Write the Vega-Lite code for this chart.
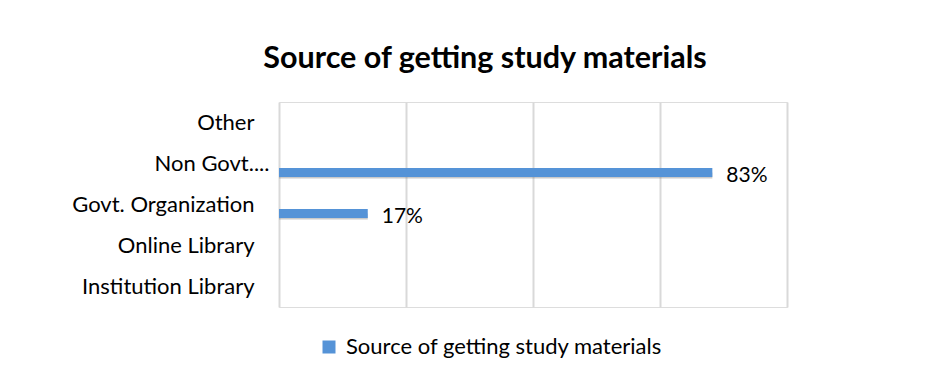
{
  "$schema": "https://vega.github.io/schema/vega-lite/v6.json",
  "width": 508,
  "height": 205,
  "autosize": {"type": "none"},
  "padding": {"left": 279, "top": 102, "right": 163, "bottom": 70},
  "background": "white",
  "title": {
    "text": "Source of getting study materials",
    "font": "Lato",
    "fontSize": 30.5,
    "fontWeight": "bold",
    "color": "#000000",
    "anchor": "middle",
    "dx": -48,
    "offset": 28
  },
  "data": {
    "values": [
      {"source": "Other", "share": 0, "series": "Source of getting study materials"},
      {"source": "Non Govt....", "share": 0.83, "series": "Source of getting study materials"},
      {"source": "Govt. Organization", "share": 0.17, "series": "Source of getting study materials"},
      {"source": "Online Library", "share": 0, "series": "Source of getting study materials"},
      {"source": "Institution Library", "share": 0, "series": "Source of getting study materials"}
    ]
  },
  "encoding": {
    "y": {
      "field": "source",
      "type": "nominal",
      "sort": ["Other", "Non Govt....", "Govt. Organization", "Online Library", "Institution Library"],
      "scale": {"paddingInner": 0, "paddingOuter": 0},
      "axis": {
        "title": null,
        "domain": false,
        "ticks": false,
        "grid": false,
        "labelFont": "Lato",
        "labelFontSize": 22,
        "labelColor": "#000000",
        "labelLimit": 0,
        "labelPadding": {"condition": {"test": "datum.value == 'Non Govt....'", "value": 10}, "value": 25}
      }
    },
    "x": {
      "field": "share",
      "type": "quantitative",
      "scale": {"domain": [0, 0.973], "nice": false},
      "axis": {
        "title": null,
        "labels": false,
        "ticks": false,
        "domain": false,
        "grid": true,
        "gridColor": "#d9d9d9",
        "gridWidth": 2,
        "values": [0, 0.243, 0.4865, 0.73, 0.973]
      }
    }
  },
  "layer": [
    {
      "transform": [{"filter": "datum.share > 0"}],
      "mark": {"type": "bar", "size": 6, "yOffset": 12, "color": "#7a7a7a", "opacity": 0.4},
      "encoding": {}
    },
    {
      "mark": {"type": "bar", "size": 9, "yOffset": 9},
      "encoding": {
        "color": {
          "field": "series",
          "type": "nominal",
          "scale": {"range": ["#5593d7"]},
          "legend": {
            "title": null,
            "orient": "none",
            "legendX": 39,
            "legendY": 234,
            "symbolType": "square",
            "symbolSize": 169,
            "symbolStrokeWidth": 0,
            "labelFont": "Lato",
            "labelFontSize": 22,
            "labelColor": "#000000",
            "labelLimit": 0,
            "labelOffset": 6
          }
        }
      }
    },
    {
      "transform": [{"filter": "datum.share > 0"}],
      "mark": {"type": "text", "align": "left", "baseline": "middle", "dx": 14, "yOffset": 12, "font": "Lato", "fontSize": 21, "color": "#000000"},
      "encoding": {
        "text": {"field": "share", "type": "quantitative", "format": ".0%"}
      }
    }
  ]
}
